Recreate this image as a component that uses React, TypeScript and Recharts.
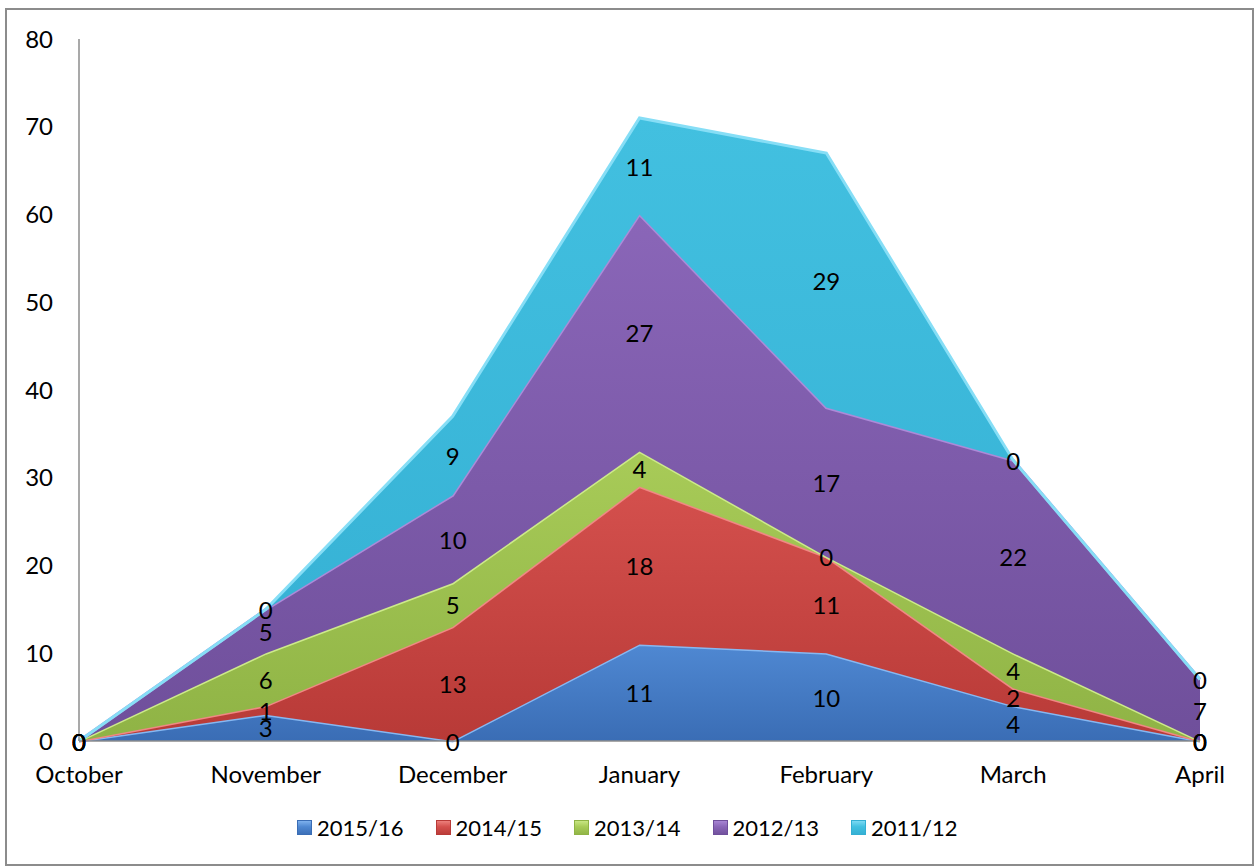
import React from "react";
import { ComposedChart, Area, Line, XAxis, YAxis, LabelList } from "recharts";

const months = ["October", "November", "December", "January", "February", "March", "April"];
const seasons = ["2015/16", "2014/15", "2013/14", "2012/13", "2011/12"];
const s201516 = [0, 3, 0, 11, 10, 4, 0];
const s201415 = [0, 1, 13, 18, 11, 2, 0];
const s201314 = [0, 6, 5, 4, 0, 4, 0];
const s201213 = [0, 5, 10, 27, 17, 22, 7];
const s201112 = [0, 0, 9, 11, 29, 0, 0];
const yTicks = [0, 10, 20, 30, 40, 50, 60, 70, 80];

const seriesValues = [s201516, s201415, s201314, s201213, s201112];

// fill top / fill bottom / edge highlight
const palette = [
  { top: "#4f88d2", bottom: "#3a6db5", edge: "#86b8f2" },
  { top: "#d4504d", bottom: "#b83a37", edge: "#f08884" },
  { top: "#a8cb58", bottom: "#8fb345", edge: "#cdea8a" },
  { top: "#8a66b8", bottom: "#6f4f9b", edge: "#ac8ad8" },
  { top: "#42c0e0", bottom: "#34afd3", edge: "#86def6" },
];

const FONT = "Lato, 'Open Sans', sans-serif";

// stacked values plus the middle of each band, used to place the value labels
const rows = months.map((month, i) => {
  const row: Record<string, number | string> = { month };
  let base = 0;
  seriesValues.forEach((vals, j) => {
    row[`v${j}`] = vals[i];
    row[`m${j}`] = base + vals[i] / 2;
    base += vals[i];
  });
  return row;
});

const BandLabel = (p: any) => {
  const x = p.x ?? p.viewBox?.x;
  const y = p.y ?? p.viewBox?.y;
  if (x == null || y == null) return null;
  return (
    <text x={x} y={y} textAnchor="middle" dominantBaseline="central" fontSize={24} fontFamily={FONT} fill="#000">
      {p.value}
    </text>
  );
};

function LegendSwatch({ i }: { i: number }) {
  const c = palette[i];
  return (
    <span
      style={{
        display: "inline-block",
        width: 15,
        height: 15,
        marginRight: 5,
        background: `linear-gradient(180deg, ${c.edge} 0%, ${c.top} 45%, ${c.bottom} 100%)`,
        boxShadow: `inset 0 0 0 1px ${c.bottom}`,
      }}
    />
  );
}

export default function App() {
  return (
    <div style={{ position: "absolute", left: 0, top: 0, width: 1255, height: 867, background: "#fff", fontFamily: FONT }}>
      <div
        style={{
          position: "absolute",
          left: 5,
          top: 8,
          width: 1245,
          height: 854,
          border: "2px solid #8c8c8c",
        }}
      />
      <div style={{ position: "absolute", left: 0, top: 0 }}>
        <ComposedChart width={1255} height={867} data={rows} margin={{ top: 39, right: 55, left: 0, bottom: 0 }}>
          <defs>
            {palette.map((c, i) => (
              <linearGradient key={i} id={`g${i}`} x1="0" y1="0" x2="0" y2="1">
                <stop offset="0%" stopColor={c.top} />
                <stop offset="100%" stopColor={c.bottom} />
              </linearGradient>
            ))}
          </defs>
          <XAxis
            dataKey="month"
            scale="point"
            interval={0}
            height={126}
            tickLine={false}
            tickSize={0}
            tickMargin={25}
            axisLine={{ stroke: "#8c8c8c", strokeWidth: 1.5 }}
            tick={{ fontSize: 24, fill: "#000", fontFamily: FONT }}
          />
          <YAxis
            width={79}
            domain={[0, 80]}
            ticks={yTicks}
            interval={0}
            tickLine={false}
            tickSize={0}
            tickMargin={26}
            axisLine={{ stroke: "#8c8c8c", strokeWidth: 1.5 }}
            tick={{ fontSize: 24, fill: "#000", fontFamily: FONT }}
          />
          {seasons.map((name, j) => (
            <Area
              key={name}
              name={name}
              type="linear"
              dataKey={`v${j}`}
              stackId="a"
              fill={`url(#g${j})`}
              fillOpacity={1}
              stroke={palette[j].edge}
              strokeWidth={3}
              isAnimationActive={false}
            />
          ))}
          {seasons.map((name, j) => (
            <Line
              key={`mid-${name}`}
              type="linear"
              dataKey={`m${j}`}
              stroke="none"
              dot={false}
              activeDot={false}
              legendType="none"
              isAnimationActive={false}
            >
              <LabelList dataKey={`v${j}`} content={BandLabel} />
            </Line>
          ))}
        </ComposedChart>
      </div>
      <div
        style={{
          position: "absolute",
          left: 297,
          top: 814,
          display: "flex",
          alignItems: "center",
          gap: 32,
          fontSize: 22,
          color: "#000",
        }}
      >
        {seasons.map((name, i) => (
          <span key={name} style={{ display: "flex", alignItems: "center" }}>
            <LegendSwatch i={i} />
            {name}
          </span>
        ))}
      </div>
    </div>
  );
}
